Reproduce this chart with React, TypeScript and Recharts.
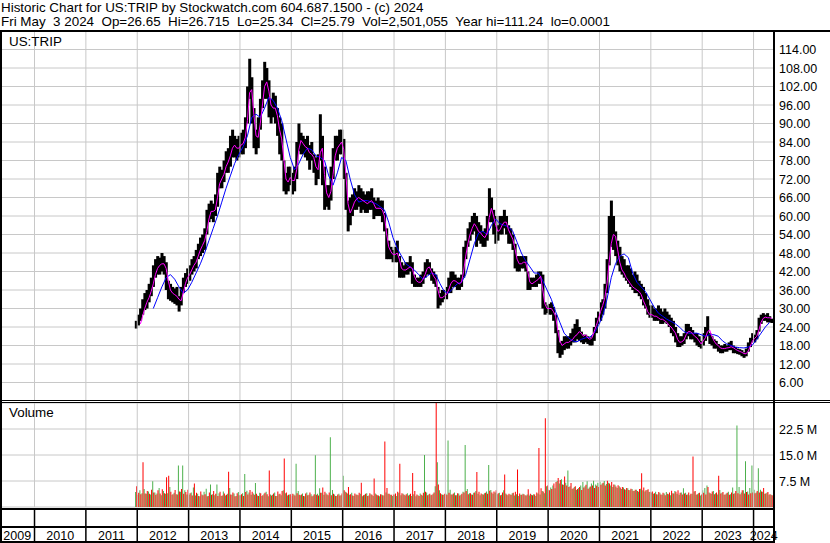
import React from 'react';
import { ComposedChart, Bar, Line, XAxis, YAxis, CartesianGrid, ReferenceLine } from 'recharts';

const FONT = '"Liberation Sans", Arial, Helvetica, sans-serif';

const titleLine1 = 'Historic Chart for US:TRIP by Stockwatch.com 604.687.1500 - (c) 2024';
const titleLine2 = 'Fri May  3 2024  Op=26.65  Hi=26.715  Lo=25.34  Cl=25.79  Vol=2,501,055  Year hi=111.24  lo=0.0001';
const symbolLabel = 'US:TRIP';
const volumeLabel = 'Volume';

// half-month periods, first one = second half of Dec 2011 (fractional years)
const firstPeriod = 2011.9792;
const periodLength = 1 / 24;
const axisStart = 2009.328;
const axisEnd = 2024.398;

const yearBoundaries = [2010, 2011, 2012, 2013, 2014, 2015, 2016, 2017, 2018, 2019, 2020, 2021, 2022, 2023, 2024];
const yearLabels = [2009, 2010, 2011, 2012, 2013, 2014, 2015, 2016, 2017, 2018, 2019, 2020, 2021, 2022, 2023, 2024];
const priceTicks = [6, 12, 18, 24, 30, 36, 42, 48, 54, 60, 66, 72, 78, 84, 90, 96, 102, 108, 114];
const volumeTicks = [7.5, 15, 22.5];

const priceHigh = [
  26, 28, 30, 33, 35, 36, 38, 40, 44, 46, 47, 46.5, 48, 47, 45, 39, 38, 37, 36.5, 37, 34, 37, 40, 41.5, 43,
  44, 46, 47, 49, 51, 53, 54, 56, 62, 64, 65, 64, 67, 74, 76, 75, 78, 81, 82, 86, 88, 86, 85, 86,
  87, 88, 92, 102, 111, 105, 95, 88, 92, 98, 104, 110, 108, 104, 98, 100, 99, 95, 92, 90, 78, 74, 76, 76,
  74, 76, 84, 90, 87, 86, 85, 86, 83, 84, 80, 79, 80, 93, 86, 76, 70, 70, 76, 82, 86, 86, 88, 88,
  85, 74, 65, 66, 67, 69, 68, 70, 69, 68, 67, 68, 68, 69, 66, 65, 66, 65, 65, 61, 56, 52, 50, 49,
  50, 52, 47, 45, 44, 45, 45, 47, 45, 41, 40, 40, 41, 42, 45, 46, 45, 43, 42, 41, 37, 35, 36, 36,
  37, 40, 42, 42, 41, 40, 40, 41, 50, 52, 56, 58, 60, 61, 60, 58, 57, 55, 56, 60, 69, 66, 62, 60,
  57, 60, 60, 62, 60, 57, 56, 54, 51, 47, 47, 47, 47, 47, 42, 40, 40, 40, 41, 42, 42, 41, 32, 31,
  31.5, 32, 30.5, 28, 23, 19, 19.5, 21, 21, 21, 22, 23.5, 25, 26.5, 24, 22.5, 21.5, 21.5, 21, 20.5, 21, 24, 27, 29,
  32, 33, 38, 46, 60, 65, 60, 55, 52, 50, 47, 46, 44, 44, 43, 41, 42, 41, 39, 38, 37, 35, 33, 31,
  31, 30, 30, 31, 30, 29, 30, 29, 28, 27, 26, 24, 22, 21, 21, 22, 25, 25, 24, 23, 22, 22, 21, 19.5,
  22, 24, 27.5, 22, 21, 20, 19.5, 18.5, 18, 18, 18.5, 18, 19, 19.5, 18, 17.5, 17, 16.8, 16.5, 15.8, 17, 19, 20.5, 22,
  21.5, 23, 27, 28, 28.5, 28, 28.5, 27.5, 26.7,
];

const priceLow = [
  23.5, 24.5, 26, 28, 29.5, 30, 32, 34, 37, 40, 41, 41, 42, 41, 36, 33, 32.5, 32, 31.5, 31, 29, 31, 35, 37, 38,
  39, 41, 42, 43, 46, 47, 48, 49, 54, 58, 59, 58, 60, 63, 69, 69, 71, 74, 74, 76, 79, 79, 78, 79,
  80, 80, 82, 90, 98, 90, 82, 80, 82, 88, 95, 98, 98, 92, 90, 92, 90, 86, 80, 78, 68, 67, 68, 70,
  67, 68, 72, 81, 80, 80, 79, 78, 75, 78, 74, 70, 72, 78, 70, 62, 63, 62, 65, 72, 78, 78, 80, 80,
  72, 62, 55, 57, 60, 62, 62, 63, 61, 62, 61, 61, 62, 62, 59, 60, 60, 60, 58, 55, 46, 46, 46, 45,
  45, 45, 40, 40, 40, 41, 41, 42, 38, 37, 37, 37, 37, 38, 40, 41, 41, 39, 38, 37, 30, 31, 32, 33,
  33, 35, 35, 37, 37, 36, 36, 37, 40, 46, 50, 52, 54, 55, 50, 52, 51, 50, 50, 52, 58, 58, 54, 51,
  52, 54, 54, 56, 54, 51, 51, 49, 43, 42, 42, 43, 43, 42, 36, 36, 37, 37, 37, 38, 38, 30, 28, 28.5,
  28, 28, 26, 22, 15.5, 14, 15, 16.5, 17, 17, 18, 19, 19, 20, 19.5, 19, 18.5, 19, 18.5, 18, 18, 19.5, 22, 25,
  26, 28, 30, 35, 44, 50, 49, 47, 44, 42, 41, 40, 39, 38, 37, 36, 35, 35, 34, 33, 31, 30, 28, 27,
  27, 26, 26, 26, 25, 25, 25.5, 25, 24, 22, 21, 19, 17.5, 17.5, 18, 18.5, 20, 21, 20, 20, 19, 18, 17.5, 17,
  18, 19.5, 21, 18.5, 18, 17, 17, 16, 15.5, 15.5, 16, 16, 16.5, 16.5, 15.5, 15.5, 15.2, 15, 14.5, 14, 14.5, 16, 17.5, 19,
  19, 20, 22.5, 25, 26, 26, 25.5, 25.5, 25.3,
];

// magenta short moving average, one value per half month
const avgFast = [
  null, null, 25, 27.5, 30, 32, 33.5, 35.5, 38, 41, 43, 44, 44.5, 44.5, 43, 39, 36, 35, 34.5, 34, 33, 32.5, 35, 38, 40,
  41, 42.5, 44, 45, 47, 49, 50.5, 52, 55, 59, 61.5, 61.5, 62, 66, 70.5, 72, 73.5, 76, 77.5, 79.5, 82, 83, 82, 82,
  83, 83.5, 85.5, 91, 100, 101, 93, 86, 85.5, 90, 96, 102, 103.5, 100.5, 96, 95, 95, 92.5, 88, 85, 78.5, 72, 71, 72.5,
  71.5, 71.5, 75, 81.5, 84.5, 83.5, 82.5, 82, 80.5, 80, 79, 76, 75, 80.5, 82, 73.5, 67.5, 66, 68, 73.5, 79.5, 82, 83, 84,
  81.5, 73.5, 64, 61, 62.5, 64.5, 65.5, 66, 65.5, 65, 64.5, 64, 64.5, 65, 64, 62.5, 62.5, 62.5, 62, 60, 54.5, 50, 48.5, 47.5,
  47.5, 48, 46, 43, 42.5, 42.5, 43, 43.5, 43, 40.5, 39, 38.5, 38.5, 39.5, 41, 43, 43.5, 42, 40.5, 39.5, 36, 33.5, 33.5, 34,
  34.5, 36, 38, 39, 39, 38.5, 38, 38.5, 42, 47, 51, 54, 56, 57.5, 56.5, 55, 54.5, 53.5, 53, 54.5, 59.5, 62.5, 60, 57,
  55, 55.5, 57, 58, 58, 55.5, 54, 52.5, 49.5, 46, 44.5, 44.5, 45, 45, 42, 38.5, 38, 38.5, 39, 39.5, 40.5, 36, 31.5, 30,
  30, 30, 29, 27.5, 23, 19.5, 18, 18.5, 19, 19, 19.5, 20, 21, 21.5, 22.5, 22, 21, 21.5, 20.5, 20, 20.5, 22.5, 24.5, 26.5,
  29, 31, 33.5, 38, 45, 51, 54, 53.5, 49, 45, 42.5, 41.5, 40, 39, 38, 37, 36.5, 36, 35.5, 34.5, 32.5, 31, 29, 28,
  28, 27.5, 27.5, 27, 26.5, 26.5, 26, 25.5, 24.5, 24, 23, 22, 20, 19, 19.2, 19.8, 21.5, 22.5, 22.5, 21.8, 21, 20.5, 19.5, 18.5,
  19.5, 20.5, 22.5, 23, 21, 19.5, 18.5, 18, 17.2, 17, 17, 17.2, 17.3, 17.6, 17.3, 16.8, 16.4, 16.1, 15.8, 15.4, 15.3, 16.2, 17.8, 19.5,
  20.3, 21, 23, 25.5, 26.8, 27.2, 27, 27, 26.8,
];

// blue long moving average, one value per month starting at period 8
const avgSlowStart = 8;
const avgSlowEvery = 2;
const avgSlow = [
  30, 33.5, 37, 40, 41, 39.5, 37, 35, 36,
  38.5, 41.5, 44.5, 48, 52, 56, 60, 64.5, 69, 73, 77, 80,
  82.5, 86, 92, 93, 92, 95, 98.5, 97.5, 95, 91, 85, 79,
  75, 77, 80, 82, 81.5, 79.5, 79, 78, 73, 70, 74, 79,
  78, 72, 67, 64.5, 65, 65, 64.5, 64, 63, 62, 58, 53,
  49.5, 47, 44.5, 43.5, 42.5, 41, 39.5, 40.5, 41.5, 41, 38, 35.5,
  35, 36.5, 38, 38.5, 41, 46, 51, 54.5, 55, 54, 57, 59,
  57.5, 57, 56.5, 55, 51.5, 48, 45.5, 43.5, 41.5, 41.5, 39, 36,
  33, 29, 25.5, 22, 20.5, 19.5, 19.2, 20, 20.5, 20.7, 22, 24.5,
  27.5, 33, 40, 44.5, 47, 47.7, 46.5, 41.5, 38.5, 37, 35.5, 33,
  30.5, 28.5, 27.5, 26.5, 25.8, 25, 23.9, 22.5, 22, 22, 22, 21.5,
  21, 21.5, 21.5, 21, 19.5, 18.5, 18, 17.5, 17.3, 17.2, 17.5, 18.2,
  20, 22, 24, 25.5,
];

// volume in millions per half month: highest up-day (green) and down-day (red)
const volUp = [
  4.3, 3.5, 4.8, 4.0, 5.2, 3.8, 4.5, 3.6, 7.4, 4.2, 3.9, 5.5, 3.4, 4.6, 3.8, 4.0, 5.8, 3.5, 4.1, 3.7, 12.0, 4.4, 12.0, 4.8, 3.6,
  3.5, 4.2, 5.6, 3.3, 3.8, 3.1, 3.6, 4.4, 5.3, 3.2, 6.5, 3.7, 3.4, 6.5, 4.0, 3.2, 4.5, 3.3, 3.8, 5.5, 3.5, 3.9, 3.2, 4.3,
  3.4, 4.0, 9.5, 4.7, 4.2, 3.5, 3.9, 6.9, 3.3, 4.1, 3.2, 3.8, 4.4, 3.1, 3.6, 3.5, 4.2, 3.2, 3.7, 3.4, 4.8, 4.0, 3.3, 3.6,
  3.2, 3.6, 12.5, 4.6, 3.4, 3.9, 3.1, 4.2, 3.5, 3.7, 3.3, 14.9, 3.8, 5.4, 4.1, 3.5, 4.0, 3.4, 20.1, 4.9, 3.6, 3.2, 3.8, 3.4,
  9.0, 4.4, 3.9, 3.5, 4.1, 3.2, 3.6, 3.4, 3.8, 3.1, 3.5, 4.0, 3.3, 3.7, 3.2, 3.9, 3.4, 3.1, 3.6, 3.3, 4.2, 3.8, 3.5, 3.2,
  3.6, 3.2, 4.1, 3.4, 3.8, 3.3, 4.0, 3.5, 3.2, 3.7, 3.1, 3.4, 3.9, 3.3, 15.0, 4.2, 3.6, 3.4, 3.8, 6.0, 12.9, 4.8, 3.7, 3.5,
  3.8, 19.2, 5.0, 3.6, 4.2, 3.4, 3.9, 3.5, 4.4, 17.9, 5.2, 4.0, 3.6, 4.1, 4.6, 3.8, 3.4, 3.7, 4.0, 4.5, 12.1, 4.9, 3.8, 4.2,
  3.7, 4.1, 3.5, 4.8, 3.9, 3.4, 3.6, 4.0, 3.3, 3.7, 3.2, 3.5, 3.8, 3.4, 3.6, 3.3, 3.5, 3.7, 3.2, 3.9, 3.6, 4.6, 4.0, 6.0,
  5.0, 5.6, 6.2, 5.4, 7.5, 6.8, 8.0, 6.4, 7.0, 10.5, 6.0, 5.2, 5.8, 4.9, 5.5, 6.2, 7.2, 6.0, 7.4, 5.6, 6.8, 7.6, 6.5, 7.0,
  7.3, 6.8, 7.5, 6.6, 7.0, 6.2, 5.8, 6.4, 5.5, 6.0, 5.2, 5.6, 5.0, 5.4, 4.8, 5.2, 4.6, 5.0, 4.4, 5.3, 4.8, 4.5, 4.9, 4.3,
  4.2, 3.8, 4.4, 3.6, 4.1, 3.5, 3.9, 4.3, 3.7, 3.4, 4.0, 4.6, 3.8, 3.5, 4.2, 5.4, 4.1, 3.6, 3.4, 3.8, 4.5, 3.5, 4.0, 3.3,
  4.8, 5.5, 6.2, 4.2, 3.8, 4.6, 4.0, 3.6, 4.9, 4.1, 3.5, 3.9, 4.4, 3.7, 5.6, 4.0, 23.5, 5.8, 4.2, 4.8, 13.2, 4.5, 5.5, 12.0,
  5.0, 4.2, 11.2, 5.0, 4.4, 3.8, 4.1, 3.5, 3.5,
];

const volDown = [
  6.0, 4.1, 3.7, 12.9, 3.9, 4.6, 3.8, 5.0, 4.2, 3.5, 4.8, 3.9, 5.1, 4.0, 8.6, 9.0, 4.4, 3.7, 4.9, 3.6, 4.5, 5.2, 3.8, 4.3, 5.0,
  4.0, 3.3, 6.8, 4.1, 3.2, 4.5, 3.4, 3.7, 3.1, 4.2, 3.5, 4.6, 3.8, 3.2, 4.4, 3.3, 3.9, 3.5, 10.2, 3.6, 4.2, 3.1, 4.0, 3.4,
  3.7, 3.2, 4.3, 3.6, 4.9, 4.4, 3.5, 3.8, 3.2, 4.0, 3.4, 4.1, 3.7, 10.5, 3.3, 3.9, 3.2, 4.5, 3.8, 4.6, 14.0, 4.2, 3.5, 3.7,
  3.8, 3.3, 4.0, 3.5, 3.6, 3.2, 3.9, 3.4, 4.2, 3.1, 3.7, 3.5, 3.3, 4.1, 5.6, 4.4, 3.6, 4.2, 3.4, 3.8, 3.2, 3.6, 3.3, 3.9,
  4.8, 4.2, 5.8, 3.7, 3.3, 3.9, 3.5, 4.1, 7.0, 3.4, 3.8, 3.2, 4.0, 3.5, 8.2, 3.6, 3.3, 3.7, 3.4, 18.9, 5.5, 3.8, 3.5, 3.6,
  3.9, 4.4, 12.5, 4.0, 3.5, 3.7, 3.3, 3.8, 9.8, 4.6, 3.6, 3.2, 3.5, 4.1, 4.4, 3.4, 3.8, 3.5, 4.2, 30.0, 6.5, 4.0, 3.5, 3.8,
  3.5, 4.1, 3.6, 3.9, 3.4, 4.0, 3.3, 3.8, 4.2, 4.6, 3.7, 4.0, 3.5, 4.2, 10.1, 4.4, 3.9, 3.6, 4.1, 3.8, 4.7, 4.2, 4.5, 4.8,
  4.0, 3.4, 4.2, 9.4, 3.6, 3.8, 3.5, 4.1, 4.4, 10.8, 3.9, 3.5, 3.7, 3.3, 5.1, 3.8, 3.4, 3.6, 4.2, 17.0, 5.4, 4.5, 25.6, 6.2,
  4.8, 5.2, 6.8, 7.2, 8.4, 7.8, 6.5, 8.8, 6.2, 5.8, 6.9, 5.4, 6.0, 5.2, 5.8, 4.9, 5.6, 6.4, 5.3, 5.9, 6.2, 5.5, 6.1, 5.8,
  6.4, 7.0, 6.2, 7.6, 6.8, 7.2, 6.5, 5.9, 6.3, 5.6, 5.8, 5.1, 5.5, 4.9, 5.3, 4.7, 5.0, 4.6, 5.2, 9.7, 5.6, 4.8, 5.1, 4.4,
  4.5, 4.0, 3.7, 4.3, 3.6, 4.1, 3.4, 3.8, 4.2, 4.7, 3.9, 4.4, 4.8, 4.1, 3.6, 3.9, 3.5, 4.2, 3.8, 14.6, 4.6, 3.7, 4.1, 3.6,
  4.1, 3.6, 5.8, 4.0, 4.5, 3.7, 4.2, 9.0, 3.9, 4.3, 3.6, 4.1, 3.5, 4.2, 3.8, 4.6, 4.0, 3.7, 4.8, 3.9, 4.3, 3.6, 4.0, 4.2,
  4.0, 4.6, 4.2, 4.5, 5.5, 3.9, 4.3, 3.7, 3.4,
];

const data = priceHigh.map((hi, i) => {
  const k = (i - avgSlowStart) / avgSlowEvery;
  return {
    t: firstPeriod + i * periodLength,
    range: [priceLow[i], hi],
    fast: avgFast[i],
    slow: Number.isInteger(k) && k >= 0 && k < avgSlow.length ? avgSlow[k] : null,
    up: volUp[i],
    down: volDown[i],
  };
});

const labelTicks = yearLabels.map((y) =>
  y === 2009 ? (axisStart + 2010) / 2 : y === 2024 ? (2024 + axisEnd) / 2 : y + 0.5
);
const dateTicks = [...yearBoundaries, ...labelTicks].sort((a, b) => a - b);

const PriceTick = (props: any) => {
  const { x, y, payload } = props;
  return (
    <text x={x} y={y} dy={4.5} fontSize={12.5} fontFamily={FONT} fill="#000" textAnchor="start">
      {Number(payload.value).toFixed(2)}
    </text>
  );
};

const VolumeTick = (props: any) => {
  const { x, y, payload } = props;
  return (
    <text x={x} y={y} dy={4.5} fontSize={12.5} fontFamily={FONT} fill="#000" textAnchor="start">
      {Number(payload.value).toFixed(1) + ' M'}
    </text>
  );
};

const DateTick = (props: any) => {
  const { x, y, payload } = props;
  const v = Number(payload.value);
  if (yearBoundaries.includes(v)) {
    return <line x1={x} x2={x} y1={y + 2} y2={y + 36} stroke="#000" strokeWidth={1.5} />;
  }
  return (
    <text x={x} y={y + 32.5} fontSize={12.5} fontFamily={FONT} fill="#000" textAnchor="middle">
      {String(Math.floor(v))}
    </text>
  );
};

// slightly wider than the band so neighbouring half-month ranges merge like daily bars
const PriceBarShape = (props: any) => {
  const { x, y, width, height } = props;
  if (x == null || y == null) return null;
  return <rect x={x - 0.5} y={y} width={Math.max(width, 1) + 1} height={Math.max(height, 1)} fill="#000" />;
};

const box = (left: number, top: number, width: number, height: number): React.CSSProperties => ({
  position: 'absolute', left, top, width, height, background: '#000',
});

const textStyle = (left: number, top: number, size = 13.4): React.CSSProperties => ({
  position: 'absolute', left, top, fontFamily: FONT, fontSize: size, lineHeight: '13px',
  whiteSpace: 'pre', color: '#000',
});

export default function App() {
  return (
    <div style={{ position: 'absolute', left: 0, top: 0, width: 830, height: 543, background: '#fff', overflow: 'hidden' }}>
      <div style={textStyle(1, 0.7)}>{titleLine1}</div>
      <div style={textStyle(1, 15.2)}>{titleLine2}</div>

      <div style={{ position: 'absolute', left: 0, top: 0 }}>
        <ComposedChart width={830} height={401} data={data} margin={{ top: 31, right: 0, bottom: 0, left: 0 }}>
          <CartesianGrid vertical={false} stroke="#c8c8c8" />
          {yearBoundaries.map((y) => (
            <ReferenceLine key={'pg' + y} x={y} stroke="#c8c8c8" />
          ))}
          <XAxis hide type="number" dataKey="t" domain={[axisStart, axisEnd]} allowDataOverflow />
          <YAxis
            orientation="right" width={56} type="number" domain={[0, 120]} ticks={priceTicks}
            interval={0} axisLine={false} tickLine={false} tickSize={5} tickMargin={0} tick={<PriceTick />}
            allowDataOverflow
          />
          <Bar dataKey="range" fill="#000" shape={<PriceBarShape />} isAnimationActive={false} />
          <Line dataKey="slow" stroke="#0000ff" strokeWidth={1} dot={false} connectNulls isAnimationActive={false} />
          <Line dataKey="fast" stroke="#ff00ff" strokeWidth={1} dot={false} isAnimationActive={false} />
        </ComposedChart>
      </div>

      <div style={{ position: 'absolute', left: 0, top: 403 }}>
        <ComposedChart width={830} height={140} data={data} margin={{ top: 0, right: 0, bottom: 0, left: 0 }} barGap={0}>
          <CartesianGrid vertical={false} stroke="#c8c8c8" />
          {yearBoundaries.map((y) => (
            <ReferenceLine key={'vg' + y} x={y} stroke="#c8c8c8" />
          ))}
          <XAxis
            type="number" dataKey="t" domain={[axisStart, axisEnd]} allowDataOverflow height={36}
            ticks={dateTicks} interval={0} axisLine={false} tickLine={false} tickSize={0} tickMargin={0}
            tick={<DateTick />}
          />
          <YAxis
            orientation="right" width={56} type="number" domain={[0, 30]} ticks={volumeTicks}
            interval={0} axisLine={false} tickLine={false} tickSize={5} tickMargin={0} tick={<VolumeTick />}
            allowDataOverflow
          />
          <Bar dataKey="up" fill="#4cb04c" barSize={1} isAnimationActive={false} />
          <Bar dataKey="down" fill="#ff0000" barSize={1} isAnimationActive={false} />
        </ComposedChart>
      </div>

      <div style={textStyle(9, 35)}>{symbolLabel}</div>
      <div style={textStyle(9, 406)}>{volumeLabel}</div>

      <div style={box(0, 30, 830, 2)} />
      <div style={box(0, 30, 2, 513)} />
      <div style={box(773, 30, 2, 513)} />
      <div style={box(0, 400, 830, 1)} />
      <div style={box(0, 402, 830, 1)} />
      <div style={box(0, 508, 775, 2)} />
      <div style={box(0, 526, 775, 1.5)} />
      <div style={box(0, 541, 775, 2)} />
    </div>
  );
}
